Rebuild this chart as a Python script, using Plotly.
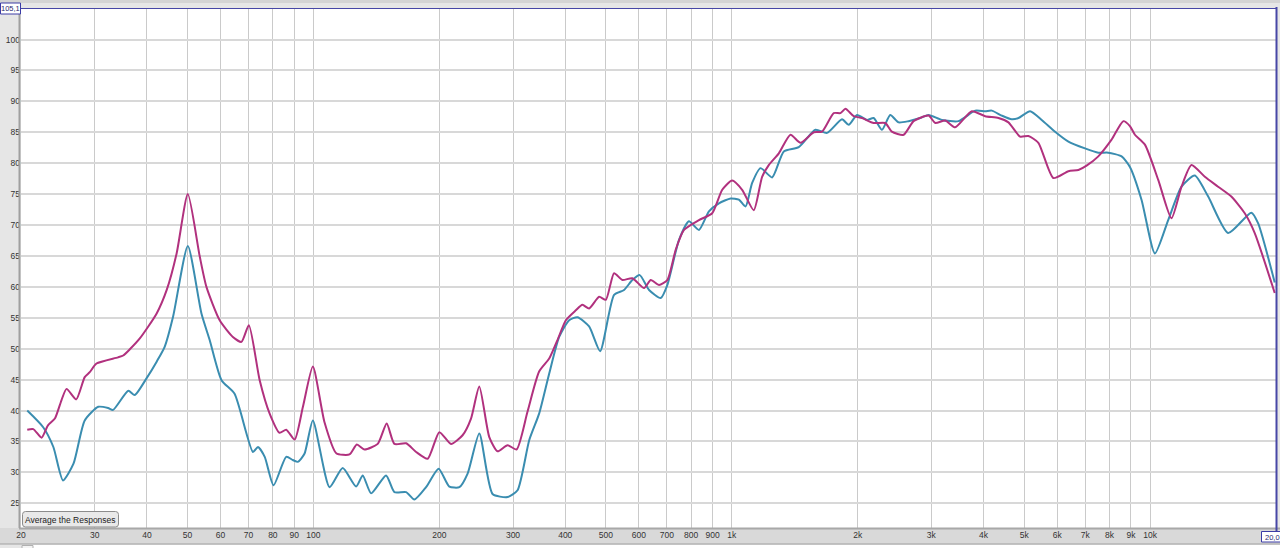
import plotly.graph_objects as go

# ---------------- data ----------------
mag_freq = [20.7, 21.4, 22.4, 23.2, 24.1, 25.0, 25.7, 27.1, 28.4, 29.2, 30.3, 34.1, 35.1, 36.4, 38.5,
            42.2, 44.6, 47.1, 50.1, 53.5, 55.5, 59.7, 64.2, 67.3, 70.1, 74.4, 78.6, 83.0, 86.1, 90.2,
            94.4, 99.7, 106.3, 113.4, 122.0, 127.0, 132.5, 142.5, 149.7, 156.2, 166.6, 176.0, 187.6,
            200.0, 213.3, 227.3, 238.1, 249.2, 263.3, 275.6, 291.1, 305.9, 324.9, 346.4, 366.2, 383.2,
            401.3, 424, 439.6, 456.1, 481.9, 500, 523.3, 547.7, 578.6, 617.2, 640.4, 670.3, 701.5,
            734.6, 768.9, 835, 898, 949, 1002, 1059, 1129, 1182, 1226, 1296, 1382, 1460, 1571, 1644,
            1753, 1819, 1870, 1957, 2048, 2184, 2329, 2414, 2575, 2721, 2955, 3066, 3239, 3420, 3749,
            4035, 4341, 4586, 4891, 5119, 5408, 5872, 6380, 6740, 7050, 7520, 8090, 8630, 8950, 9200,
            9720, 10460, 11250, 11890, 12560, 13520, 14540, 15640, 16840, 17790, 19860]
mag_db = [36.9, 37.0, 35.6, 37.6, 38.7, 41.7, 43.5, 41.8, 45.4, 46.2, 47.6, 48.6, 48.9, 49.9, 51.7,
          55.7, 59.5, 65.4, 75.0, 64.9, 60.0, 54.6, 51.9, 51.1, 53.8, 44.9, 39.5, 36.4, 36.9, 35.3,
          40.6, 47.1, 38.1, 33.1, 32.9, 34.5, 33.7, 34.6, 37.9, 34.6, 34.7, 33.3, 32.2,
          36.5, 34.6, 36.0, 38.7, 43.9, 35.7, 33.4, 34.4, 33.7, 39.8, 46.3, 48.4, 51.4,
          54.6, 56.2, 57.1, 56.5, 58.4, 57.9, 62.2, 61.1, 61.4, 59.8, 61.1, 60.3, 61.1,
          66.0, 69.2, 70.8, 71.9, 75.7, 77.2, 75.7, 72.4, 77.8, 79.7, 81.6, 84.6, 83.3, 85.0, 85.1,
          88.1, 88.1, 88.8, 87.6, 87.3, 86.5, 86.5, 85.1, 84.6, 86.8, 87.7, 86.5, 86.9, 85.8, 88.4,
          87.6, 87.3, 86.6, 84.3, 84.4, 83.3, 77.6, 78.7, 78.9, 79.6, 81.1, 83.8, 86.8, 86.0, 84.6,
          83.0, 77.3, 71.1, 76.2, 79.7, 77.8, 76.2, 74.6, 71.9, 68.7, 59.0]

cyan_freq = [20.7, 22.6, 23.9, 25.2, 26.7, 28.4, 30.6, 32.3, 33.2, 36.1, 37.4, 39.9, 42.2, 44.1, 46.2,
             50.1, 54.0, 56.5, 60.3, 64.8, 71.7, 73.7, 76.5, 80.3, 86.1, 89.3, 91.8, 95.2, 99.7,
             109.3, 117.5, 126.5, 131.2, 137.4, 149.2, 156.2, 166.6, 174.3, 185.9, 199.2, 211.3,
             223.3, 233.7, 249.2, 268.1, 291.1, 307.6, 328.0, 346.4, 366.2, 386.8, 408.6, 427.7,
             456.1, 484.6, 523.3, 552.8, 578.6, 602.8, 634.4, 676.6, 701.5, 748.1, 790, 835, 882,
             932, 994, 1040, 1079, 1119, 1172, 1249, 1332, 1446, 1585, 1690, 1835, 1904, 1993, 2105,
             2184, 2286, 2393, 2505, 2647, 2823, 2955, 3179, 3483, 3820, 4035, 4184, 4421, 4670,
             4847, 5167, 5507, 5928, 6380, 6990, 7520, 7944, 8550, 8950, 9540, 10270, 11050, 11890,
             12790, 13770, 15370, 17460, 18120, 19860]
cyan_db = [40.0, 37.3, 34.1, 28.7, 31.4, 38.4, 40.6, 40.4, 40.1, 43.2, 42.5, 45.2, 47.9, 50.3, 55.2,
           66.6, 55.7, 51.4, 44.9, 42.7, 33.3, 34.1, 32.5, 27.9, 32.5, 32.0, 31.7, 33.0, 38.4,
           27.6, 30.7, 27.7, 29.5, 26.6, 29.5, 26.8, 26.8, 25.6, 27.6, 30.6, 27.7,
           27.6, 29.8, 36.3, 26.5, 26.0, 27.1, 35.2, 39.5, 46.0, 51.9, 54.6, 55.1,
           53.6, 49.6, 58.7, 59.5, 61.1, 61.9, 59.5, 58.2, 60.3, 67.6, 70.6, 69.2, 72.2,
           73.5, 74.3, 74.1, 73.0, 76.8, 79.2, 77.7, 81.9, 82.6, 85.4, 84.9, 87.1, 86.2, 87.8, 87.0,
           87.3, 85.4, 87.8, 86.6, 86.8, 87.3, 87.8, 87.0, 86.8, 88.5, 88.4, 88.5, 87.7, 87.1,
           87.3, 88.4, 87.0, 85.1, 83.5, 82.4, 81.7, 81.7, 81.1, 79.4, 74.1, 65.4, 70.8, 76.2,
           78.0, 74.6, 68.7, 72.0, 70.3, 60.7]

x_tick_vals = [20, 30, 40, 50, 60, 70, 80, 90, 100, 200, 300, 400, 500, 600, 700, 800, 900,
               1000, 2000, 3000, 4000, 5000, 6000, 7000, 8000, 9000, 10000]
x_tick_text = ["20", "30", "40", "50", "60", "70", "80", "90", "100", "200", "300", "400", "500",
               "600", "700", "800", "900", "1k", "2k", "3k", "4k", "5k", "6k", "7k", "8k", "9k",
               "10k"]
y_tick_vals = [25, 30, 35, 40, 45, 50, 55, 60, 65, 70, 75, 80, 85, 90, 95, 100]
y_top = 105.1
y_bottom = 21.0

# ---------------- geometry helpers (pixel -> paper) ----------------
W, H = 1280, 548
L, R, T, B = 21, 4, 8, 20
PW, PH = W - L - R, H - T - B


def fx(px):
    return (px - L) / PW


def fy(py):
    return (H - B - py) / PH


FONT = "Liberation Sans"

fig = go.Figure()
fig.add_trace(go.Scatter(x=cyan_freq, y=cyan_db, mode="lines",
                         line=dict(color="#3a8db0", width=2, shape="spline", smoothing=0.6),
                         hoverinfo="skip", showlegend=False))
fig.add_trace(go.Scatter(x=mag_freq, y=mag_db, mode="lines",
                         line=dict(color="#b1317e", width=2, shape="spline", smoothing=0.6),
                         hoverinfo="skip", showlegend=False))

shapes = []
# bottom axis band
shapes.append(dict(type="rect", xref="paper", yref="paper", x0=fx(-5), x1=fx(1290),
                   y0=fy(544), y1=fy(528), fillcolor="#d9d9d9", line=dict(width=0), layer="below"))
shapes.append(dict(type="line", xref="paper", yref="paper", x0=fx(19), x1=fx(1290),
                   y0=fy(528.5), y1=fy(528.5), line=dict(color="#a8a8a8", width=2)))
shapes.append(dict(type="line", xref="paper", yref="paper", x0=fx(-5), x1=fx(1290),
                   y0=fy(544), y1=fy(544), line=dict(color="#a0a0a0", width=1)))
# white strip at very bottom
shapes.append(dict(type="rect", xref="paper", yref="paper", x0=fx(22), x1=fx(1290),
                   y0=fy(560), y1=fy(545), fillcolor="#ffffff", line=dict(width=0)))
shapes.append(dict(type="rect", xref="paper", yref="paper", x0=fx(22), x1=fx(33),
                   y0=fy(560), y1=fy(545.5), fillcolor="#f4f4f4", line=dict(color="#b0b0b0", width=1)))
# left frame line
shapes.append(dict(type="line", xref="paper", yref="paper", x0=fx(19.5), x1=fx(19.5),
                   y0=fy(528), y1=fy(3), line=dict(color="#a0a0a0", width=2)))
# top strip
shapes.append(dict(type="rect", xref="paper", yref="paper", x0=fx(-5), x1=fx(1290),
                   y0=fy(3), y1=fy(-5), fillcolor="#d4d4d4", line=dict(width=0)))
# cursor lines
shapes.append(dict(type="line", xref="paper", yref="y", x0=0, x1=1, y0=y_top, y1=y_top,
                   line=dict(color="#4747a6", width=2)))
shapes.append(dict(type="line", xref="paper", yref="paper", x0=fx(1276.5), x1=fx(1276.5),
                   y0=fy(533), y1=fy(7), line=dict(color="#4747a6", width=2)))
# button with rounded corners
bx0, bx1, by0, by1, r = 22.5, 118.5, 511.5, 527, 3
path = (f"M {fx(bx0 + r)},{fy(by0)} L {fx(bx1 - r)},{fy(by0)} "
        f"Q {fx(bx1)},{fy(by0)} {fx(bx1)},{fy(by0 + r)} L {fx(bx1)},{fy(by1 - r)} "
        f"Q {fx(bx1)},{fy(by1)} {fx(bx1 - r)},{fy(by1)} L {fx(bx0 + r)},{fy(by1)} "
        f"Q {fx(bx0)},{fy(by1)} {fx(bx0)},{fy(by1 - r)} L {fx(bx0)},{fy(by0 + r)} "
        f"Q {fx(bx0)},{fy(by0)} {fx(bx0 + r)},{fy(by0)} Z")
shapes.append(dict(type="path", xref="paper", yref="paper", path=path,
                   fillcolor="#e9e9e9", line=dict(color="#8c8c8c", width=1)))
# cursor value boxes
shapes.append(dict(type="rect", xref="paper", yref="paper", x0=fx(0.5), x1=fx(20.5),
                   y0=fy(14), y1=fy(3), fillcolor="#ffffff", line=dict(color="#3c3ca6", width=1)))
shapes.append(dict(type="rect", xref="paper", yref="paper", x0=fx(1261.5), x1=fx(1285),
                   y0=fy(542), y1=fy(531.5), fillcolor="#ffffff", line=dict(color="#3c3ca6", width=1)))

annotations = [
    dict(text="Average the Responses", xref="paper", yref="paper", x=fx(70.5), y=fy(519.5),
         xanchor="center", yanchor="middle", showarrow=False,
         font=dict(family=FONT, size=8.5, color="#222222")),
    dict(text="105,1", xref="paper", yref="paper", x=fx(10.5), y=fy(8.7),
         xanchor="center", yanchor="middle", showarrow=False,
         font=dict(family=FONT, size=7.5, color="#2a2a70")),
    dict(text="20,0", xref="paper", yref="paper", x=fx(1262.5), y=fy(537),
         xanchor="left", yanchor="middle", showarrow=False,
         font=dict(family=FONT, size=7.5, color="#2a2a70")),
]

fig.update_layout(
    width=W, height=H,
    margin=dict(l=L, r=R, t=T, b=B, pad=0, autoexpand=False),
    paper_bgcolor="#e6e6e6",
    plot_bgcolor="#ffffff",
    showlegend=False,
    shapes=shapes,
    annotations=annotations,
    xaxis=dict(type="log", range=[1.30103, 4.30103], tickvals=x_tick_vals, ticktext=x_tick_text,
               showgrid=True, gridcolor="#cacaca", gridwidth=1, zeroline=False, showline=False,
               automargin=False, ticks="", ticklen=0,
               tickfont=dict(family=FONT, size=8.5, color="#333333"), fixedrange=True),
    yaxis=dict(range=[y_bottom, y_top], tickvals=y_tick_vals,
               showgrid=True, gridcolor="#d8d8d8", gridwidth=2, zeroline=False, showline=False,
               automargin=False, ticks="", ticklen=0,
               tickfont=dict(family=FONT, size=8.5, color="#333333"), fixedrange=True),
)

fig.write_html("out.html", config={"displayModeBar": False},
               post_script="document.body.style.margin='0px';document.body.style.overflow='hidden';")
